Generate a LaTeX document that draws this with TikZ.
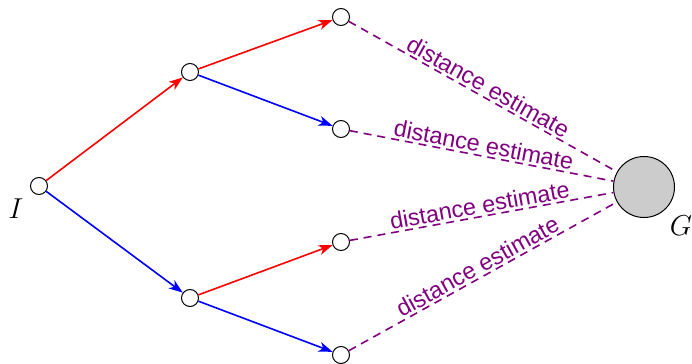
\documentclass[tikz,border=0pt]{standalone}
\usepackage{fontspec}
\newfontfamily\labfont{Liberation Sans}
\usetikzlibrary{arrows.meta}
\definecolor{dpurple}{RGB}{128,0,128}
\tikzset{
  dot/.style={circle,draw=black,fill=white,line width=0.5pt,minimum size=8.5pt,inner sep=0pt},
  goal/.style={circle,draw=black,fill=gray!40,line width=0.5pt,minimum size=30.5pt,inner sep=0pt},
  redarrow/.style={draw=red,line width=0.8pt,-{Stealth[length=7pt,width=5pt,inset=2pt]}},
  bluearrow/.style={draw=blue,line width=0.8pt,-{Stealth[length=7pt,width=5pt,inset=2pt]}},
  est/.style={draw=dpurple,line width=0.8pt,dash pattern=on 4pt off 3pt},
  estlab/.style={midway,sloped,above,inner sep=1pt,text=dpurple,font=\labfont\fontsize{11.7}{13}\selectfont},
  bigmath/.style={font=\fontsize{14.5}{17}\selectfont,inner sep=0pt}
}
\begin{document}
\begin{tikzpicture}[x=0.5pt,y=-0.5pt]
\useasboundingbox (0,0) rectangle (692,364);
\node[dot] (I) at (39,186) {};
\node[dot] (a) at (190,72) {};
\node[dot] (b) at (190,298) {};
\node[dot] (a1) at (341,17) {};
\node[dot] (a2) at (341,129) {};
\node[dot] (b1) at (341,242) {};
\node[dot] (b2) at (341,355) {};
\node[goal] (G) at (644,187) {};
\node[bigmath] (Ilab) at (16,209) {$I$};
\node[bigmath] (Glab) at (681,226) {$G$};
\draw[redarrow] (I) -- (a);
\draw[bluearrow] (I) -- (b);
\draw[redarrow] (a) -- (a1);
\draw[bluearrow] (a) -- (a2);
\draw[redarrow] (b) -- (b1);
\draw[bluearrow] (b) -- (b2);
\draw[est] (a1) -- node[estlab] {distance estimate} (G);
\draw[est] (a2) -- node[estlab] {distance estimate} (G);
\draw[est] (b1) -- node[estlab] {distance estimate} (G);
\draw[est] (b2) -- node[estlab] {distance estimate} (G);
\end{tikzpicture}
\end{document}
